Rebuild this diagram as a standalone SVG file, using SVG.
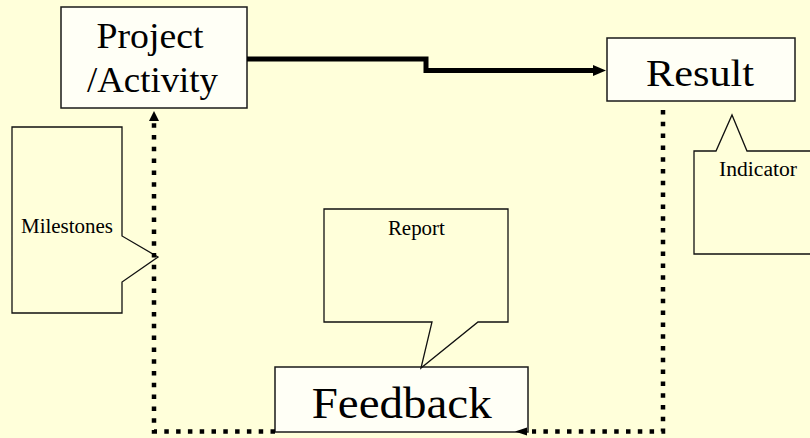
<svg xmlns="http://www.w3.org/2000/svg" width="810" height="438" viewBox="0 0 810 438">
  <defs>
    <style>
      .bg { fill: #FFFFDA; }
      .box { fill: #FFFFF6; stroke: #1a1a1a; stroke-width: 1.5; }
      .callout { fill: #FFFFDA; stroke: #111; stroke-width: 1.3; stroke-linejoin: miter; }
      .label { font-family: "Liberation Serif", "Times New Roman", serif; fill: #000; }
      .main { stroke: #000; stroke-width: 5; fill: none; }
      .dots { stroke: #000; stroke-width: 4.5; fill: none; stroke-dasharray: 4.5 7.3; }
      .head { fill: #000; }
    </style>
  </defs>

  <rect class="bg" x="0" y="0" width="810" height="438"/>

  <g id="project">
    <rect class="box" x="61" y="7" width="186" height="101"/>
    <text class="label" x="150" y="48" font-size="35" text-anchor="middle" textLength="107" lengthAdjust="spacingAndGlyphs">Project</text>
    <text class="label" x="152.5" y="92" font-size="35" text-anchor="middle" textLength="131" lengthAdjust="spacingAndGlyphs">/Activity</text>
  </g>

  <g id="result">
    <rect class="box" x="607" y="38" width="188" height="63"/>
    <text class="label" x="700" y="86" font-size="38" text-anchor="middle" textLength="108" lengthAdjust="spacingAndGlyphs">Result</text>
  </g>

  <g id="feedback">
    <rect class="box" x="275" y="367" width="253" height="65"/>
    <text class="label" x="401.7" y="418" font-size="45" text-anchor="middle" textLength="180" lengthAdjust="spacingAndGlyphs">Feedback</text>
  </g>

  <g id="milestones">
    <path class="callout" d="M12,127 H122 V236 L158,257 L122,282 V313 H12 Z"/>
    <text class="label" x="21" y="233" font-size="20" textLength="92" lengthAdjust="spacingAndGlyphs">Milestones</text>
  </g>

  <g id="report">
    <path class="callout" d="M324,209 H508 V322 H478 L421,368 L432,322 H324 Z"/>
    <text class="label" x="416.4" y="235" font-size="20" text-anchor="middle" textLength="57" lengthAdjust="spacingAndGlyphs">Report</text>
  </g>

  <g id="indicator">
    <path class="callout" d="M694,151 H716 L732,115 L747,151 H815 V254 H694 Z"/>
    <text class="label" x="719" y="176" font-size="20" textLength="78" lengthAdjust="spacingAndGlyphs">Indicator</text>
  </g>

  <!-- connectors -->
  <g id="connectors">
    <!-- main flow: Project/Activity to Result -->
    <path class="main" d="M247,59 H426 V70.5 H595"/>
    <path class="head" d="M606,70.5 L593,65 L593,76 Z"/>
    <!-- feedback loop: Result down and back to Feedback -->
    <path class="dots" d="M663,110 V431.5 H532"/>
    <path class="head" d="M515,431.5 L527,427.5 L527,435.5 Z"/>
    <!-- feedback loop: Feedback back up to Project/Activity -->
    <path class="dots" d="M275,431.5 H154 V121"/>
    <path class="head" d="M154,111 L149,121 L159,121 Z"/>
  </g>
</svg>
